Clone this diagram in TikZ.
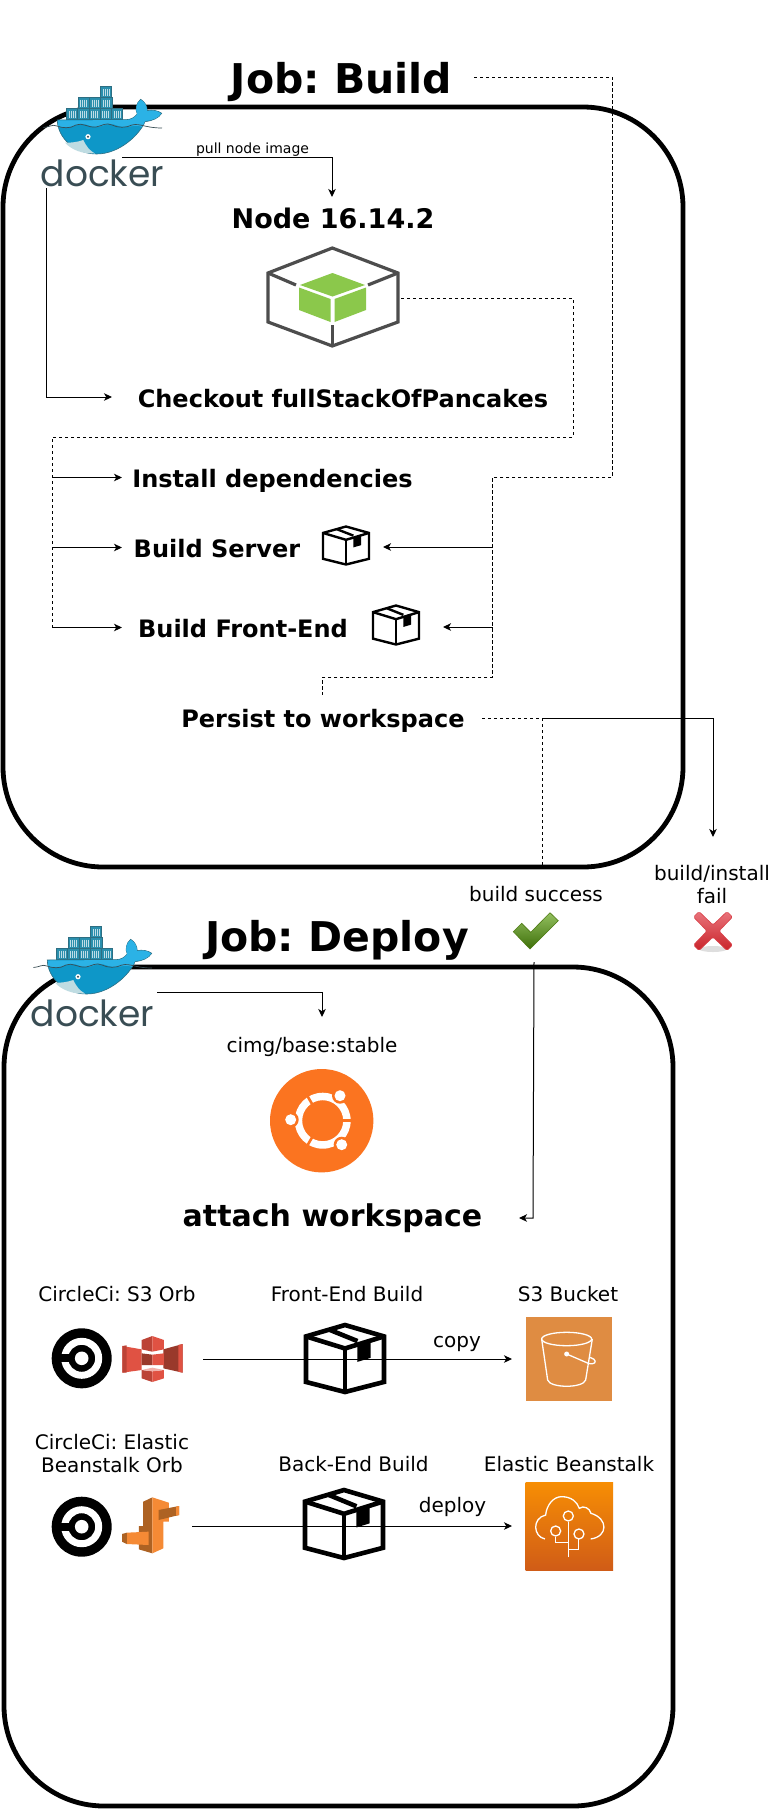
\documentclass[tikz,border=0pt]{standalone}
\usepackage{fontspec}
\setmainfont{DejaVu Sans}
\newfontfamily\dockerfont{Poppins}
\usetikzlibrary{arrows.meta}
\frenchspacing
\definecolor{dkcell}{HTML}{2A8FAD}
\definecolor{dkedge}{HTML}{2D6E82}
\definecolor{dkhull}{HTML}{0E97C8}
\definecolor{dkupper}{HTML}{2BB2E6}
\definecolor{dktext}{HTML}{394D54}
\definecolor{dkbelly}{HTML}{BFDCE2}
\definecolor{nodegrey}{HTML}{4D4D4D}
\definecolor{nodegreen}{HTML}{8BC84B}
\definecolor{ubu}{HTML}{FB7420}
\definecolor{bucket}{HTML}{DF8C42}
\definecolor{s3light}{HTML}{E05243}
\definecolor{s3dark}{HTML}{99392B}
\definecolor{s3mid}{HTML}{BC4336}
\definecolor{ebdark}{HTML}{AD6223}
\definecolor{ebbright}{HTML}{F58A35}
\definecolor{ebtop}{HTML}{F78E04}
\definecolor{ebbot}{HTML}{D05C17}
\definecolor{chktop}{HTML}{93C05F}
\definecolor{chkbot}{HTML}{3E6F0A}
\definecolor{chkedge}{HTML}{4D7A12}
\definecolor{xtop}{HTML}{E9737B}
\definecolor{xbot}{HTML}{C9242A}
\definecolor{xedge}{HTML}{D9434B}
\tikzset{
  jobbox/.style={draw=black,line width=4.8pt,rounded corners=100pt,inner sep=0pt,outer sep=0pt},
  flow/.style={draw=black,line width=1pt,-{Stealth[length=8pt,width=7.5pt,inset=2.2pt]}},
  dashline/.style={draw=black,line width=.9pt,dash pattern=on 3.2pt off 2.8pt},
  txt/.style={inner sep=0pt,outer sep=0pt,anchor=base,align=center},
  jobt/.style={txt,font=\fontsize{41}{46}\selectfont\bfseries},
  stept/.style={txt,font=\fontsize{24}{28}\selectfont\bfseries},
  lab/.style={txt,font=\fontsize{20}{23}\selectfont},
  cell/.style={fill=dkcell,draw=dkedge,line width=.8pt},
}
\newcommand{\dkcell}[2]{%
  \draw[cell] (#1,#2) rectangle ++(11.3,11);
  \foreach \q in {2.5,4.5,6.5,8.5}{\draw[white!70!dkcell,line width=.45pt] (#1+\q,#2+2) -- (#1+\q,#2+9);}
}
\newcommand{\dockerlogo}[3]{% dx dy name
 \begin{scope}[shift={(#1,#2)}]
  \foreach \cx in {66.3,77.6,88.9,100.2,111.5}{\dkcell{\cx}{108.6}}
  \foreach \cx in {78,89.3,100.6}{\dkcell{\cx}{97.6}}
  \dkcell{100.4}{86.8}
  \fill[dkhull,draw=dkedge,line width=.6pt] (57.3,120) -- (126.7,119.6)
     .. controls (131,119.6) and (135,117) .. (137.3,114)
     .. controls (135,110) and (136,103) .. (140.7,99.3)
     .. controls (145,102) and (147,106) .. (147.3,110.7)
     .. controls (152,109.5) and (158,110.5) .. (161.7,113.3)
     .. controls (159,118) and (152,121) .. (145,121.7)
     .. controls (140,134) and (120,154) .. (96.7,154)
     .. controls (75,154) and (57.5,138) .. (57.3,120) -- cycle;
  \fill[dkupper] (58,120.5) -- (127,120) .. controls (131,120) and (135,117.5) .. (137.3,114)
     .. controls (135,110) and (136,103) .. (140.7,99.8)
     .. controls (145,102) and (147,106) .. (147,111)
     .. controls (152,110) and (158,110.5) .. (161,113.5)
     .. controls (159,118) and (152,120.5) .. (145,121) -- (142,127)
     .. controls (135,124) and (132,127) .. (125,127)
     .. controls (118,127) and (116,124) .. (110,124)
     .. controls (104,124) and (102,127) .. (96,127)
     .. controls (90,127) and (88,124) .. (82,124)
     .. controls (76,124) and (74,127) .. (68,127) -- (58,127) -- cycle;
  \draw[dktext,line width=.7pt] (43.5,127.5) .. controls (50,127) and (52,124) .. (57,126)
     .. controls (62,128) and (70,129) .. (76,125) .. controls (82,122) and (88,128) .. (96,127)
     .. controls (102,126) and (106,122) .. (112,125) .. controls (118,128) and (126,128) .. (132,125)
     .. controls (140,123) and (145,128) .. (162,128);
  \fill[dkbelly] (65,142.7) .. controls (70,143) and (78,142) .. (83.3,140)
     .. controls (86,146) and (90,151) .. (95,153.5) .. controls (82,154) and (72,150) .. (65,142.7) -- cycle;
  \fill[white] (88,136.7) circle[radius=2.6pt];
  \fill[dktext] (88,136.7) circle[radius=1.2pt];
  \node[txt,text=dktext,font=\fontsize{36}{40}\dockerfont\selectfont] (#3) at (102.5,186) {docker};
 \end{scope}
}
\newcommand{\pkgbox}[5]{% x y w h lw
 \begin{scope}[shift={(#1,#2)},x=#3pt,y=-#4pt,line width=#5pt,line join=miter,draw=black]
  \draw (0,.17) -- (.5,0) -- (1,.17) -- (1,.85) -- (.5,1) -- (0,.85) -- cycle;
  \draw (0,.17) -- (.5,.35) -- (1,.17);
  \draw (.5,.35) -- (.5,1);
  \draw (.3,.07) -- (.66,.24);
  \fill[black] (.66,.29) -- (.83,.23) -- (.83,.49) -- (.66,.55) -- cycle;
 \end{scope}
}
\newcommand{\circleci}[2]{%
 \begin{scope}[shift={(#1,#2)}]
  \fill[black] (0,0) circle[radius=30pt];
  \fill[white,even odd rule] (0,0) circle[radius=20.5pt] (0,0) circle[radius=13.5pt];
  \fill[black] (-22,-4) rectangle (0,4);
  \fill[white] (0,0) circle[radius=6.8pt];
 \end{scope}
}
\begin{document}
\begin{tikzpicture}[x=1pt,y=-1pt]
\useasboundingbox (0,0) rectangle (772,1810);
\fill[white] (0,0) rectangle (772,1810);

% job frames
\node[jobbox,minimum width=680pt,minimum height=760pt] (buildbox) at (343,487) {};
\node[jobbox,minimum width=669pt,minimum height=839pt] (deploybox) at (338.5,1386.5) {};

% texts
\node[jobt] (jobbuild) at (341.5,93) {Job: Build};
\node[txt,font=\fontsize{14}{17}\selectfont] (pull) at (252.5,153) {pull node image};
\node[txt,font=\fontsize{27}{31}\selectfont\bfseries] (nodever) at (333,228) {Node 16.14.2};
\node[stept] (checkout) at (343,407) {Checkout fullStackOfPancakes};
\node[stept] (install) at (272.5,487) {Install dependencies};
\node[stept] (server) at (217,557) {Build Server};
\node[stept] (front) at (243,637) {Build Front-End};
\node[stept] (persist) at (323,727) {Persist to workspace};
\node[lab] (success) at (536,901) {build success};
\node[lab] (fail) at (712,903) {build/install\\fail};
\node[txt,font=\fontsize{41}{46}\selectfont\bfseries] (jobdeploy) at (337,951) {Job: Deploy};
\node[lab] (cimg) at (312,1052) {cimg/base:stable};
\node[txt,font=\fontsize{30}{34}\selectfont\bfseries] (attach) at (332.5,1226) {attach workspace};
\node[lab] (orbs) at (117,1301) {CircleCi: S3 Orb};
\node[lab] (febuild) at (347,1301) {Front-End Build};
\node[lab] (s3b) at (568,1301) {S3 Bucket};
\node[lab] (copy) at (457,1347) {copy};
\node[lab] (orbe) at (112,1472) {CircleCi: Elastic\\Beanstalk Orb};
\node[lab] (bebuild) at (353.5,1471) {Back-End Build};
\node[lab] (ebt) at (569,1471) {Elastic Beanstalk};
\node[lab] (deploy) at (452.5,1512) {deploy};

% connector way points
\coordinate (d1a) at (122,157); \coordinate (d1b) at (332,197);
\coordinate (d1c) at (46,188);  \coordinate (d1d) at (112,397);
\coordinate (nodeout) at (401,298);
\coordinate (n1) at (573,298); \coordinate (n2) at (573,437); \coordinate (n3) at (52,437);
\coordinate (n4) at (52,627.5);
\coordinate (ti) at (122,477.5); \coordinate (ts) at (122,547.5); \coordinate (tf) at (122,627.5);
\coordinate (js) at (52,477.5); \coordinate (jm) at (52,547.5);
\coordinate (j0) at (474,77); \coordinate (j1) at (612.7,77); \coordinate (j2) at (612.7,477);
\coordinate (j3) at (492.7,477); \coordinate (j4) at (492.7,677); \coordinate (j5) at (322.7,677);
\coordinate (j6) at (322.7,695);
\coordinate (a1) at (492.7,547); \coordinate (a1t) at (383,547);
\coordinate (a2) at (492.7,627); \coordinate (a2t) at (443,627);
\coordinate (p0) at (482,718); \coordinate (p1) at (542,718); \coordinate (p2) at (542,867);
\coordinate (p3) at (713,718); \coordinate (p4) at (713,837);
\coordinate (s0) at (534,962); \coordinate (s1) at (533,1218); \coordinate (s2) at (519,1218);
\coordinate (d2a) at (157,992); \coordinate (d2b) at (322,992); \coordinate (d2c) at (322,1017);
\coordinate (fa) at (203,1359); \coordinate (fb) at (512,1359);
\coordinate (ba) at (192,1526); \coordinate (bb) at (512,1526);

% connectors
\draw[flow] (d1a) -| (d1b);
\draw[flow] (d1c) |- (d1d);
\draw[dashline] (nodeout) -- (n1) -- (n2) -- (n3) -- (n4);
\draw[flow] (js) -- (ti);
\draw[flow] (jm) -- (ts);
\draw[flow] (n4) -- (tf);
\draw[dashline] (j0) -- (j1) -- (j2) -- (j3) -- (j4) -- (j5) -- (j6);
\draw[flow] (a1) -- (a1t);
\draw[flow] (a2) -- (a2t);
\draw[dashline] (p0) -- (p1) -- (p2);
\draw[flow] (p1) -- (p3) -- (p4);
\draw[flow] (s0) -- (s1) -- (s2);
\draw[flow] (d2a) -- (d2b) -- (d2c);
\draw[flow] (fa) -- (fb);
\draw[flow] (ba) -- (bb);

% docker logos
\dockerlogo{0}{0}{dockerA}
\dockerlogo{-10}{840}{dockerB}

% node icon
\begin{scope}[line width=3.2pt,draw=nodegrey,line join=miter]
 \draw (332.3,248) -- (398,273) -- (398,322) -- (332.3,346) -- (268,322) -- (268,273) -- cycle;
 \draw (268,273) -- (296,285);
 \draw (398,273) -- (368,285);
 \draw (332.3,346) -- (332.3,325);
\end{scope}
\fill[nodegreen] (332.5,273) -- (365,285) -- (332.5,296.5) -- (300,285) -- cycle;
\fill[nodegreen] (299,287.5) -- (330.5,299) -- (330.5,322) -- (299,310) -- cycle;
\fill[nodegreen] (366,287.5) -- (334.5,299) -- (334.5,322) -- (366,310) -- cycle;

% small and large package icons
\pkgbox{323}{526.5}{46}{38}{2.4}
\pkgbox{373}{605.5}{46}{39}{2.4}
\pkgbox{306}{1325}{78}{67}{4.6}
\pkgbox{305}{1490}{78}{68}{4.6}

% check mark
\shade[top color=chktop,bottom color=chkbot,draw=chkedge,line width=.6pt]
  (513.3,931.7) -- (521.7,923.3) -- (530.7,932.3) -- (550,912.7) -- (558.3,920.7) -- (530,949) -- cycle;

% cross
\fill[black!13] (713,949) ellipse[x radius=14pt,y radius=3pt];
\begin{scope}[shift={(713,931)}]
\shade[top color=xtop,bottom color=xbot,draw=xedge,line width=.6pt,rounded corners=1.5pt]
  (-14,-19.5) -- (0,-6) -- (14,-19.5) -- (19.5,-14) -- (6,0) -- (19.5,14) -- (14,19.5) -- (0,6) -- (-14,19.5) -- (-19.5,14) -- (-6,0) -- (-19.5,-14) -- cycle;
\end{scope}

% ubuntu
\begin{scope}[shift={(321.7,1120.7)}]
 \fill[ubu] (0,0) circle[radius=51.7pt];
 \fill[white,even odd rule] (1,0) circle[radius=28pt] (1,0) circle[radius=20.5pt];
 \draw[ubu,line width=2.6pt] (19,0) -- (31,0);
 \draw[ubu,line width=2.6pt] (-9,-15.6) -- (-16,-27.7);
 \draw[ubu,line width=2.6pt] (-9,15.6) -- (-16,27.7);
 \fill[ubu] (18.3,-25) circle[radius=8pt];
 \fill[white] (18.3,-25) circle[radius=5.5pt];
 \fill[ubu] (-31,-1) circle[radius=8pt];
 \fill[white] (-31,-1) circle[radius=5.5pt];
 \fill[ubu] (20,24) circle[radius=8pt];
 \fill[white] (20,24) circle[radius=5.5pt];
\end{scope}

% circleci logos
\circleci{81.7}{1358.3}
\circleci{81.7}{1526.7}

% S3 orb icon
\begin{scope}[shift={(45,1320)},x=.3333pt,y=-.3333pt]
 \fill[s3light] (232,78) -- (290,88) -- (290,150) -- (232,158) -- cycle;
 \fill[s3mid] (232,78) -- (245,76) -- (245,158) -- (232,158) -- cycle;
 \fill[s3dark] (355,88) -- (413,72) -- (413,158) -- (355,145) -- cycle;
 \fill[s3light] (400,75) -- (413,72) -- (413,158) -- (400,155) -- cycle;
 \fill[s3mid] (290,60) -- (322,48) -- (322,95) -- (290,88) -- cycle;
 \fill[s3light] (322,48) -- (357,60) -- (357,88) -- (322,95) -- cycle;
 \fill[s3dark] (290,100) -- (322,104) -- (322,135) -- (290,135) -- cycle;
 \fill[s3light] (322,104) -- (357,100) -- (357,135) -- (322,135) -- cycle;
 \fill[s3mid] (290,150) -- (322,154) -- (322,186) -- (290,175) -- cycle;
 \fill[s3light] (322,154) -- (357,150) -- (357,175) -- (322,186) -- cycle;
 \fill[s3light!45!white] (290,150) -- (322,143) -- (357,150) -- (322,154) -- cycle;
\end{scope}

% beanstalk orb icon
\begin{scope}[shift={(114,1490)},x=.3654pt,y=-.3333pt]
 \fill[ebdark] (80,35) -- (105,22) -- (105,190) -- (68,178) -- (68,108) -- (80,108) -- cycle;
 \fill[ebbright] (105,22) -- (150,38) -- (150,95) -- (135,95) -- (135,175) -- (105,190) -- cycle;
 \fill[ebdark] (122,60) -- (178,48) -- (178,75) -- (122,90) -- cycle;
 \fill[ebbright] (170,50) -- (178,48) -- (178,75) -- (170,77) -- cycle;
 \fill[ebbright] (35,128) -- (95,125) -- (95,165) -- (35,162) -- cycle;
 \fill[ebdark] (22,132) -- (35,128) -- (35,162) -- (22,155) -- cycle;
\end{scope}

% S3 bucket tile
\fill[bucket] (525.5,1317) rectangle (612,1401);
\begin{scope}[shift={(370,1270)},x=.3333pt,y=-.3333pt,draw=white,line width=1.3pt]
 \draw (590,207) ellipse[x radius=25pt,y radius=6.7pt];
 \draw (515,207) -- (533,330) .. controls (540,355) and (640,355) .. (647,330) -- (667,207);
 \fill[white] (590,252) circle[radius=2.5pt];
 \draw (590,252) -- (655,280) .. controls (675,285) and (680,275) .. (672,268) .. controls (668,264) and (664,263) .. (660,262);
\end{scope}

% beanstalk tile
\shade[top color=ebtop,bottom color=ebbot] (525.5,1482) rectangle (613,1570);
\begin{scope}[shift={(370,1270)},x=.3333pt,y=-.3333pt,draw=white,line width=1.3pt]
 \draw (525,807) .. controls (490,800) and (485,745) .. (527,735)
   .. controls (530,705) and (550,680) .. (575,680)
   .. controls (605,680) and (622,697) .. (628,715)
   .. controls (640,705) and (660,715) .. (663,730)
   .. controls (715,745) and (715,800) .. (662,807);
 \draw (595,862) -- (595,755);
 \draw (595,738) circle[radius=5pt];
 \draw (595,838) -- (625,838) -- (625,808);
 \draw (627,792) circle[radius=5pt];
 \draw (595,817) -- (557,817) -- (557,800);
 \draw (557,783) circle[radius=5pt];
\end{scope}
\end{tikzpicture}
\end{document}
